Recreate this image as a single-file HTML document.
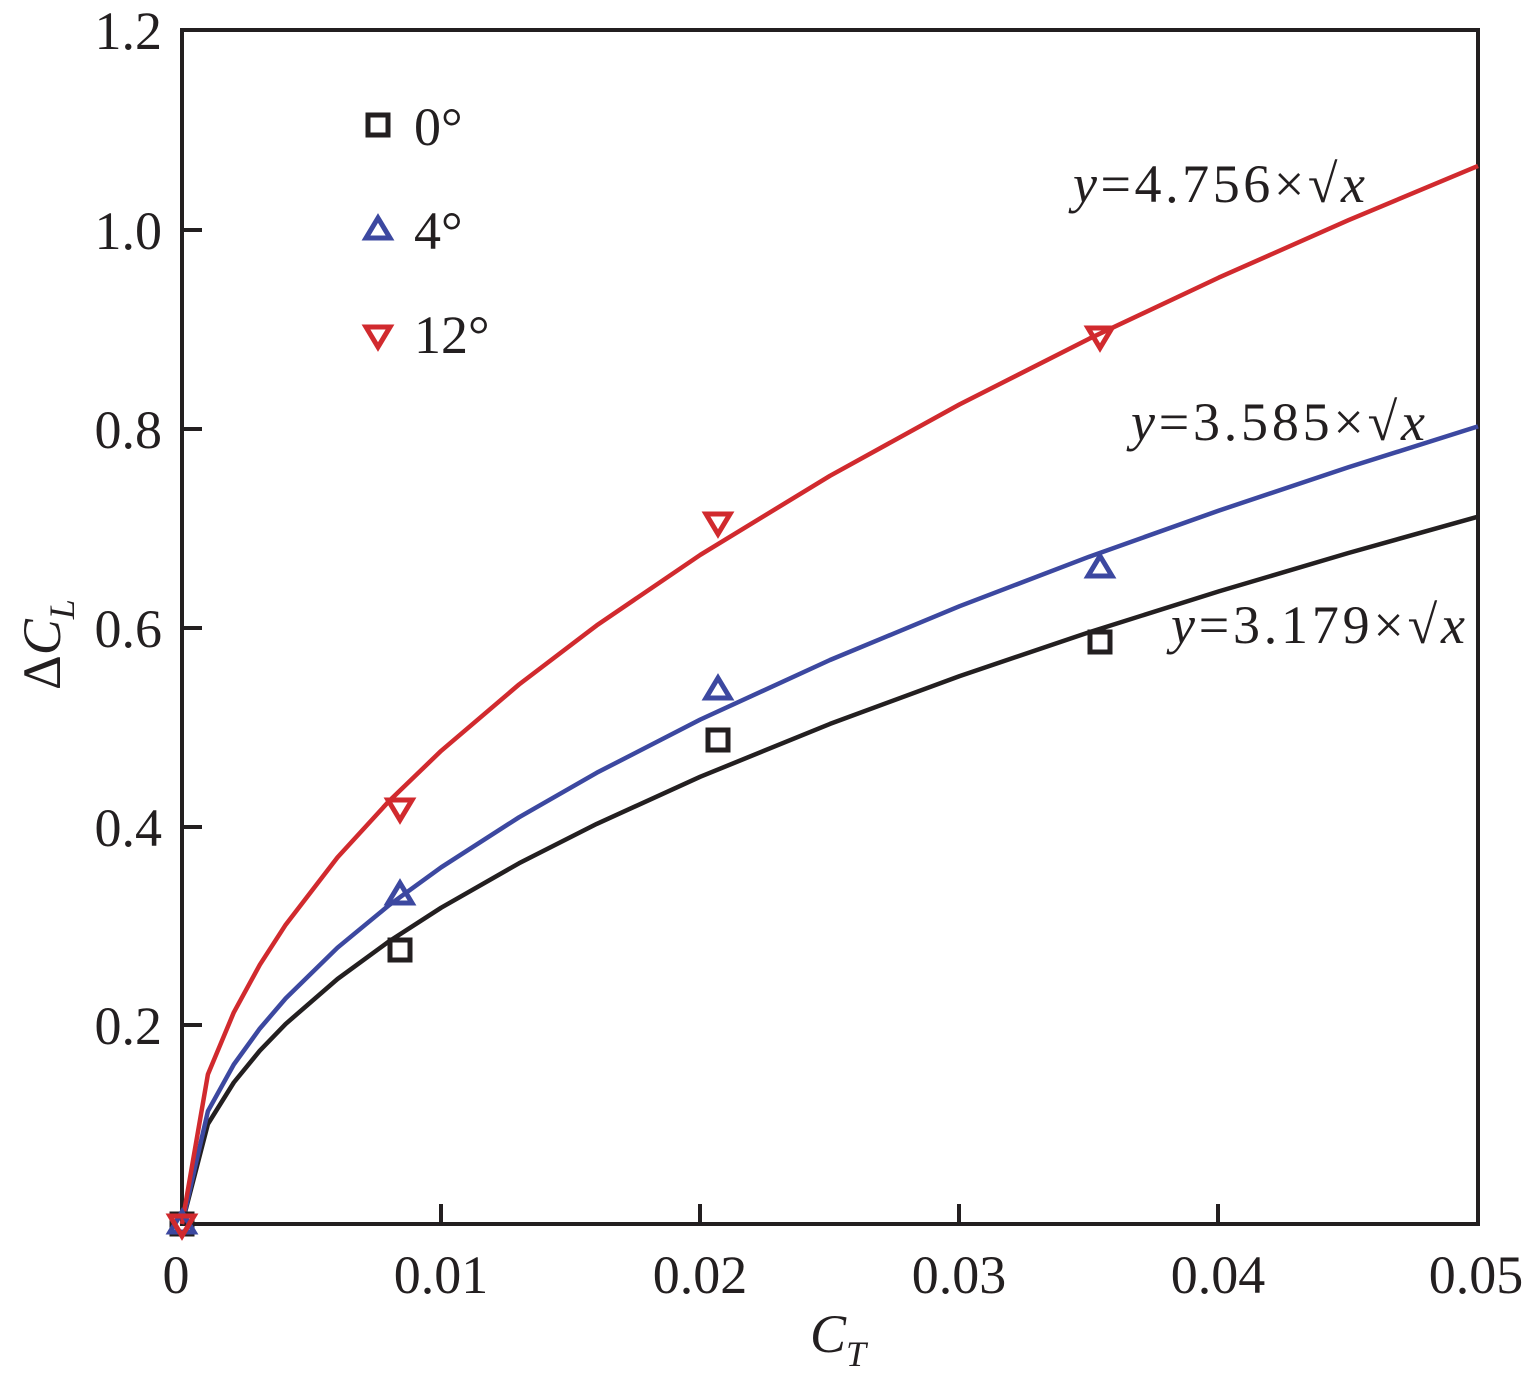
<!DOCTYPE html>
<html><head><meta charset="utf-8"><style>body{margin:0;background:#fff}svg{display:block}text{font-family:"Liberation Serif","Times New Roman",serif}</style></head>
<body>
<svg width="1533" height="1396" viewBox="0 0 1533 1396" xmlns="http://www.w3.org/2000/svg">
<g stroke="#231f20" stroke-width="4" fill="none">
<rect x="182" y="30" width="1296" height="1194"/>
<path d="M441 1224v-20M700 1224v-20M959 1224v-20M1218 1224v-20M182 1025h20M182 827h20M182 628h20M182 429h20M182 230h20"/>
</g>
<g font-size="54" fill="#231f20" text-anchor="middle">
<text x="176" y="1293">0</text><text x="441" y="1293">0.01</text><text x="700" y="1293">0.02</text><text x="959" y="1293">0.03</text><text x="1218" y="1293">0.04</text><text x="1476" y="1293">0.05</text>
</g>
<g font-size="54" fill="#231f20" text-anchor="end">
<text x="162" y="1044">0.2</text><text x="162" y="846">0.4</text><text x="162" y="647">0.6</text><text x="162" y="448">0.8</text><text x="162" y="249">1.0</text><text x="162" y="49">1.2</text>
</g>
<text x="810" y="1352" font-size="54" font-style="italic" fill="#231f20">C<tspan font-size="36" dy="14">T</tspan></text>
<text transform="translate(60,690) rotate(-90)" font-size="54" fill="#231f20">Δ<tspan font-style="italic">C</tspan><tspan font-style="italic" font-size="36" dy="14">L</tspan></text>
<g fill="none" stroke-width="4.5" stroke-linejoin="round">
<polyline stroke="#231f20" points="182,1224 207.9,1124 233.8,1082.5 259.8,1050.7 285.7,1023.9 337.5,979 389.4,941.1 441.2,907.7 519,863.3 596.7,823.9 700.4,776.7 830,723.9 959.6,676.1 1089.2,632.2 1218.8,591.4 1348.4,553 1478,516.7"/>
<polyline stroke="#3c48a0" points="182,1224 207.9,1111.2 233.8,1064.5 259.8,1028.6 285.7,998.4 337.5,947.7 389.4,904.9 441.2,867.3 519,817.3 596.7,772.8 700.4,719.5 830,660 959.6,606.2 1089.2,556.7 1218.8,510.6 1348.4,467.3 1478,426.4"/>
<polyline stroke="#d12a2e" points="182,1224 207.9,1074.4 233.8,1012.4 259.8,964.8 285.7,924.7 337.5,857.4 389.4,800.7 441.2,750.8 519,684.5 596.7,625.4 700.4,554.8 830,475.8 959.6,404.4 1089.2,338.7 1218.8,277.6 1348.4,220.2 1478,165.9"/>
</g>
<g fill="none" stroke-width="5">
<g stroke="#231f20">
<rect x="172" y="1214" width="20" height="20"/><rect x="390" y="940" width="20" height="20"/><rect x="708" y="730" width="20" height="20"/><rect x="1090" y="632" width="20" height="20"/><rect x="368" y="115" width="20" height="20"/>
</g>
<g stroke="#3c48a0">
<path d="M182 1212l12 20h-24z"/><path d="M400 883l12 20h-24z"/><path d="M718 678l12 20h-24z"/><path d="M1100 556l12 20h-24z"/><path d="M378 218l12 20h-24z"/>
</g>
<g stroke="#d12a2e">
<path d="M182 1236l12-20h-24z"/><path d="M400 820l12-20h-24z"/><path d="M718 534l12-20h-24z"/><path d="M1100 348l12-20h-24z"/><path d="M378 347l12-20h-24z"/>
</g>
</g>
<g font-size="54" fill="#231f20">
<text x="414" y="145">0°</text><text x="414" y="249">4°</text><text x="414" y="353">12°</text>
<text x="1073" y="202" textLength="292" lengthAdjust="spacing"><tspan font-style="italic">y</tspan>=4.756×√<tspan font-style="italic">x</tspan></text>
<text x="1131" y="440" textLength="294" lengthAdjust="spacing"><tspan font-style="italic">y</tspan>=3.585×√<tspan font-style="italic">x</tspan></text>
<text x="1171" y="643" textLength="294" lengthAdjust="spacing"><tspan font-style="italic">y</tspan>=3.179×√<tspan font-style="italic">x</tspan></text>
</g>
</svg>
</body></html>
